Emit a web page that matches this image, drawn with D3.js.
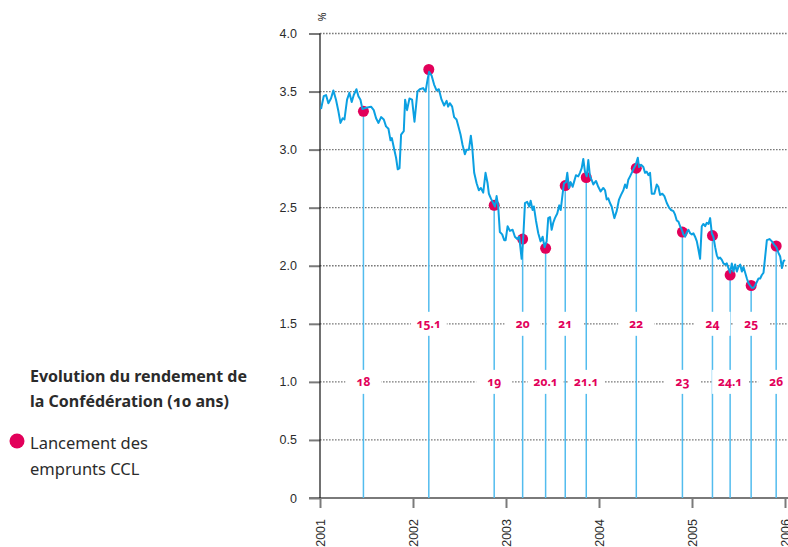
<!DOCTYPE html>
<html>
<head>
<meta charset="utf-8">
<script src="https://cdn.jsdelivr.net/npm/d3@7"></script>
<style>
  body { margin: 0; background: #fff; }
  svg { display: block; font-family: "Noto Sans", "Open Sans", sans-serif; font-variant-numeric: oldstyle-nums; }
</style>
</head>
<body>
<div id="chart"></div>
<script>
// rendement des obligations de la Confederation, 10 ans (%)
var yieldYears = [
  2001.011, 2001.040, 2001.065, 2001.090, 2001.118, 2001.144, 2001.172, 2001.198, 2001.220, 2001.244,
  2001.263, 2001.291, 2001.316, 2001.341, 2001.363, 2001.392, 2001.413, 2001.435, 2001.456, 2001.495,
  2001.549, 2001.578, 2001.603, 2001.629, 2001.657, 2001.686, 2001.710, 2001.736, 2001.758, 2001.772,
  2001.793, 2001.818, 2001.836, 2001.855, 2001.872, 2001.901, 2001.915, 2001.936, 2001.962, 2001.990,
  2002.016, 2002.048, 2002.073, 2002.109, 2002.135, 2002.156, 2002.173, 2002.199, 2002.227, 2002.253,
  2002.278, 2002.307, 2002.335, 2002.361, 2002.378, 2002.396, 2002.421, 2002.442, 2002.468, 2002.485,
  2002.511, 2002.533, 2002.558, 2002.576, 2002.601, 2002.622, 2002.636, 2002.658, 2002.684, 2002.708,
  2002.730, 2002.755, 2002.780, 2002.802, 2002.816, 2002.837, 2002.862, 2002.881, 2002.899, 2002.916,
  2002.934, 2002.959, 2002.981, 2002.996, 2003.017, 2003.042, 2003.071, 2003.096, 2003.121, 2003.142,
  2003.168, 2003.186, 2003.204, 2003.228, 2003.250, 2003.265, 2003.286, 2003.300, 2003.322, 2003.347,
  2003.372, 2003.394, 2003.415, 2003.437, 2003.454, 2003.473, 2003.491, 2003.508, 2003.526, 2003.551,
  2003.573, 2003.588, 2003.609, 2003.623, 2003.645, 2003.659, 2003.677, 2003.695, 2003.717, 2003.731,
  2003.752, 2003.777, 2003.795, 2003.814, 2003.831, 2003.849, 2003.868, 2003.885, 2003.903, 2003.921,
  2003.939, 2003.968, 2003.992, 2004.018, 2004.046, 2004.065, 2004.083, 2004.100, 2004.118, 2004.136,
  2004.165, 2004.190, 2004.215, 2004.237, 2004.262, 2004.280, 2004.298, 2004.315, 2004.334, 2004.352,
  2004.369, 2004.395, 2004.417, 2004.431, 2004.452, 2004.477, 2004.495, 2004.513, 2004.531, 2004.549,
  2004.567, 2004.595, 2004.621, 2004.638, 2004.657, 2004.681, 2004.703, 2004.729, 2004.754, 2004.775,
  2004.800, 2004.818, 2004.836, 2004.854, 2004.872, 2004.890, 2004.907, 2004.926, 2004.944, 2004.961,
  2004.980, 2004.998, 2005.015, 2005.033, 2005.052, 2005.069, 2005.087, 2005.105, 2005.123, 2005.141,
  2005.159, 2005.177, 2005.195, 2005.213, 2005.230, 2005.249, 2005.267, 2005.284, 2005.302, 2005.321,
  2005.338, 2005.356, 2005.374, 2005.392, 2005.410, 2005.428, 2005.446, 2005.464, 2005.482, 2005.499,
  2005.518, 2005.536, 2005.553, 2005.572, 2005.590, 2005.607, 2005.625, 2005.644, 2005.661, 2005.679,
  2005.697, 2005.715, 2005.733, 2005.751, 2005.769, 2005.787, 2005.805, 2005.833, 2005.859, 2005.884,
  2005.906, 2005.930, 2005.948, 2005.967, 2005.984, 2006.000
];
var yieldValues = [
  3.35, 3.46, 3.47, 3.40, 3.44, 3.51, 3.43, 3.33, 3.23, 3.27,
  3.26, 3.43, 3.49, 3.41, 3.47, 3.52, 3.46, 3.43, 3.35, 3.36,
  3.37, 3.34, 3.27, 3.23, 3.28, 3.26, 3.20, 3.18, 3.08, 3.10,
  3.02, 2.93, 2.83, 2.84, 3.13, 3.16, 3.43, 3.34, 3.44, 3.43,
  3.24, 3.50, 3.52, 3.53, 3.50, 3.60, 3.67, 3.64, 3.56, 3.51,
  3.52, 3.43, 3.38, 3.42, 3.37, 3.40, 3.37, 3.28, 3.26, 3.21,
  3.13, 3.04, 2.96, 3.00, 3.00, 3.12, 3.03, 2.80, 2.71, 2.65,
  2.67, 2.63, 2.80, 2.71, 2.62, 2.58, 2.54, 2.51, 2.60, 2.51,
  2.29, 2.27, 2.22, 2.22, 2.34, 2.30, 2.31, 2.25, 2.23, 2.25,
  2.06, 2.25, 2.54, 2.55, 2.51, 2.56, 2.48, 2.51, 2.39, 2.28,
  2.21, 2.25, 2.16, 2.21, 2.41, 2.42, 2.31, 2.37, 2.41, 2.45,
  2.52, 2.48, 2.62, 2.71, 2.72, 2.80, 2.67, 2.72, 2.68, 2.72,
  2.78, 2.77, 2.80, 2.84, 2.92, 2.81, 2.77, 2.91, 2.77, 2.74,
  2.70, 2.73, 2.68, 2.64, 2.67, 2.65, 2.57, 2.58, 2.54, 2.51,
  2.41, 2.47, 2.57, 2.61, 2.65, 2.70, 2.67, 2.74, 2.77, 2.80,
  2.83, 2.87, 2.93, 2.85, 2.87, 2.85, 2.80, 2.81, 2.78, 2.80,
  2.62, 2.62, 2.70, 2.68, 2.61, 2.62, 2.60, 2.54, 2.50, 2.48,
  2.47, 2.44, 2.39, 2.38, 2.34, 2.31, 2.27, 2.25, 2.29, 2.31,
  2.28, 2.27, 2.28, 2.25, 2.21, 2.14, 2.06, 2.34, 2.36, 2.34,
  2.37, 2.36, 2.41, 2.28, 2.25, 2.16, 2.09, 2.06, 2.07, 2.05,
  2.02, 2.01, 2.02, 1.98, 1.94, 2.02, 1.95, 2.01, 1.95, 1.99,
  2.01, 1.95, 1.99, 1.94, 1.89, 1.85, 1.83, 1.81, 1.81, 1.83,
  1.86, 1.89, 1.89, 1.92, 1.94, 2.08, 2.22, 2.23, 2.21, 2.18,
  2.16, 2.11, 2.08, 1.98, 2.04, 2.05
];

// lancement des emprunts CCL
var launchNames  = ["18", "15.1", "19", "20", "20.1", "21", "21.1", "22", "23", "24", "24.1", "25", "26"];
var launchYears  = [2001.467, 2002.170, 2002.873, 2003.179, 2003.426, 2003.637, 2003.863, 2004.401, 2004.897, 2005.220, 2005.410, 2005.636, 2005.905];
var launchValues = [3.33, 3.69, 2.52, 2.23, 2.15, 2.69, 2.76, 2.84, 2.29, 2.26, 1.92, 1.83, 2.17];
var labelLevels  = [1.0, 1.5]; // les etiquettes alternent entre ces deux lignes

var yearTicks = [2001, 2002, 2003, 2004, 2005, 2006];
var yTicks = [0, 0.5, 1.0, 1.5, 2.0, 2.5, 3.0, 3.5, 4.0];

var width = 788, height = 547;
var red = "#e2005a", blue = "#0ba0e2", paleBlue = "#52bcee", grey = "#7a7a7a", ink = "#2b2b2b";

var x = d3.scaleLinear().domain([2001, 2006]).range([320, 785]);
var y = d3.scaleLinear().domain([0, 4]).range([498, 33.5]);

var svg = d3.select("#chart").append("svg")
    .attr("width", width)
    .attr("height", height);

// grille pointillee
svg.append("g").selectAll("line")
    .data(yTicks.filter(function(d) { return d > 0; }))
    .enter().append("line")
    .attr("x1", 320).attr("x2", width)
    .attr("y1", function(d) { return y(d); })
    .attr("y2", function(d) { return y(d); })
    .attr("stroke", grey)
    .attr("stroke-width", 1.3)
    .attr("stroke-dasharray", "1.6,1.4");

// axe y
var yAxis = svg.append("g")
    .attr("transform", "translate(320,0)")
    .call(d3.axisLeft(y).tickValues(yTicks).tickSize(11).tickPadding(12)
        .tickFormat(function(d) { return d === 0 ? "0" : d3.format(".1f")(d); }));
yAxis.select(".domain").remove();
yAxis.selectAll(".tick line").attr("stroke", grey).attr("stroke-width", 2);
yAxis.selectAll(".tick text").attr("fill", ink).style("font-size", "12.5px");

// axe x
var xAxis = svg.append("g")
    .attr("transform", "translate(0,498)")
    .call(d3.axisBottom(x).tickValues(yearTicks).tickSize(10).tickFormat(d3.format("d")));
xAxis.select(".domain").attr("d", "M309,0H" + width).attr("stroke", grey).attr("stroke-width", 2);
xAxis.selectAll(".tick line").attr("stroke", grey).attr("stroke-width", 2);
xAxis.selectAll(".tick text")
    .attr("transform", "rotate(-90)")
    .attr("x", -21).attr("y", 0).attr("dy", "0.35em")
    .attr("text-anchor", "end")
    .attr("fill", ink)
    .style("font-size", "12.5px");

svg.append("line")
    .attr("x1", 320).attr("x2", 320)
    .attr("y1", y(4)).attr("y2", y(0))
    .attr("stroke", "#111").attr("stroke-width", 1.2);

svg.append("text")
    .attr("transform", "translate(322,17) rotate(-90)")
    .attr("text-anchor", "middle")
    .attr("dy", "0.35em")
    .attr("fill", ink)
    .style("font-size", "11px")
    .text("%");

// lignes verticales des lancements
var launches = launchNames.map(function(n, i) {
    return { name: n, year: launchYears[i], value: launchValues[i], level: labelLevels[i % 2] };
});

svg.append("g").selectAll("line")
    .data(launches)
    .enter().append("line")
    .attr("x1", function(d) { return x(d.year); })
    .attr("x2", function(d) { return x(d.year); })
    .attr("y1", function(d) { return y(d.value); })
    .attr("y2", y(0))
    .attr("stroke", paleBlue)
    .attr("stroke-width", 1.5);

// etiquettes avec fond blanc
var lab = svg.append("g").selectAll("g")
    .data(launches)
    .enter().append("g")
    .attr("transform", function(d) { return "translate(" + x(d.year) + "," + y(d.level) + ")"; });

lab.append("rect").attr("fill", "#fff");
lab.append("text")
    .attr("text-anchor", "middle")
    .attr("dy", "0.36em")
    .attr("fill", red)
    .style("font-size", "12px")
    .style("font-weight", "bold")
    .text(function(d) { return d.name; });
lab.each(function() {
    var g = d3.select(this);
    var w = Math.max(g.select("text").node().getBBox().width + 10, 36);
    g.select("rect").attr("x", -w / 2).attr("y", -12).attr("width", w).attr("height", 24);
});

// points rouges
svg.append("g").selectAll("circle")
    .data(launches)
    .enter().append("circle")
    .attr("cx", function(d) { return x(d.year); })
    .attr("cy", function(d) { return y(d.value); })
    .attr("r", 5.5)
    .attr("fill", red);

// courbe du rendement
var line = d3.line()
    .x(function(d, i) { return x(yieldYears[i]); })
    .y(function(d) { return y(d); });

svg.append("path")
    .datum(yieldValues)
    .attr("d", line)
    .attr("fill", "none")
    .attr("stroke", blue)
    .attr("stroke-width", 2)
    .attr("stroke-linejoin", "round");

// legende
var leg = svg.append("g").attr("fill", ink);
leg.append("text").attr("x", 30).attr("y", 382)
    .style("font-size", "16px").style("font-weight", "bold")
    .text("Evolution du rendement de");
leg.append("text").attr("x", 30).attr("y", 407)
    .style("font-size", "16px").style("font-weight", "bold")
    .text("la Confédération (10 ans)");
leg.append("circle").attr("cx", 17).attr("cy", 441).attr("r", 7.5).attr("fill", red);
leg.append("text").attr("x", 30).attr("y", 449)
    .style("font-size", "16.5px")
    .text("Lancement des");
leg.append("text").attr("x", 30).attr("y", 475)
    .style("font-size", "16.5px")
    .text("emprunts CCL");
</script>
</body>
</html>
